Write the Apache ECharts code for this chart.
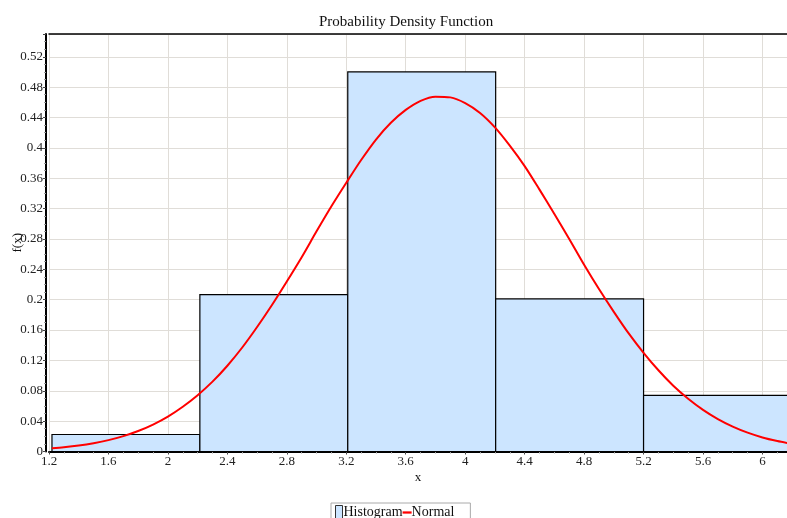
<!DOCTYPE html>
<html>
<head>
<meta charset="utf-8">
<script src="https://cdn.jsdelivr.net/npm/echarts@6/dist/echarts.min.js"></script>
<style>
    html, body { margin: 0; padding: 0; background: #fff; }
    #chart { width: 787px; height: 518px; }
</style>
</head>
<body>
<div id="chart"></div>
<script>
// histogram bins (x from / x to / density)
const binStart = [1.22, 2.215, 3.21, 4.205, 5.2]
const binEnd = [2.215, 3.21, 4.205, 5.2, 6.195]
const binDensity = [0.0224, 0.2066, 0.5, 0.201, 0.0740]

// fitted normal curve
const curveX = [1.22, 1.3, 1.4, 1.5, 1.6, 1.7, 1.8, 1.9, 2.0, 2.1, 2.2, 2.3, 2.4, 2.5, 2.6, 2.7,
    2.8, 2.9, 3.0, 3.1, 3.2, 3.3, 3.4, 3.5, 3.6, 3.7, 3.8, 3.9, 4.0, 4.1, 4.2, 4.3, 4.4,
    4.5, 4.6, 4.7, 4.8, 4.9, 5.0, 5.1, 5.2, 5.3, 5.4, 5.5, 5.6, 5.7, 5.8, 5.9, 6.0, 6.1, 6.17]
const curveY = [0.0042, 0.0056, 0.0079, 0.011, 0.015, 0.0203, 0.027, 0.0355, 0.046, 0.059, 0.0742, 0.092, 0.113,
    0.137, 0.164, 0.193, 0.224, 0.256, 0.29, 0.323, 0.354, 0.384, 0.411, 0.433, 0.45, 0.462, 0.4675, 0.4665,
    0.459, 0.446, 0.427, 0.403, 0.376, 0.345, 0.313, 0.28, 0.246, 0.214, 0.184, 0.1555, 0.13, 0.107,
    0.0866, 0.0694, 0.0548, 0.0427, 0.0328, 0.0248, 0.0185, 0.0137, 0.011]

const serif = '"Liberation Serif", "DejaVu Serif", serif'
const gridColor = '#e0ddd8'

let myChart = echarts.init(document.getElementById('chart'))

let option = {
    animation: false,
    title: {
        text: 'Probability Density Function',
        left: 319,
        top: 15,
        padding: 0,
        textStyle: { fontFamily: serif, fontSize: 15, fontWeight: 'normal', color: '#111' },
    },
    legend: {
        left: 331,
        top: 503,
        padding: [2, 16, 2, 4],
        borderColor: '#aaa',
        borderWidth: 1,
        itemGap: 0,
        itemWidth: 9,
        itemHeight: 14,
        textStyle: { fontFamily: serif, fontSize: 14, color: '#111', padding: [0, 0, 0, -5] },
        data: [
            {
                name: 'Histogram',
                icon: 'path://M0,0h7v14h-7z',
                itemStyle: { color: '#cce5ff', borderColor: '#333', borderWidth: 1 },
            },
            {
                name: 'Normal',
                icon: 'path://M0,0h10v2.5h-10z',
                itemStyle: { color: '#ff0000' },
            },
        ],
    },
    grid: {
        left: 49,
        right: 0,
        top: 34,
        bottom: 66.5,
        outerBoundsMode: 'none',
        containLabel: false,
    },
    xAxis: [
        {
            type: 'value',
            min: 1.2,
            max: 6.165,
            interval: 0.4,
            name: 'x',
            nameLocation: 'middle',
            nameGap: 20,
            nameMoveOverlap: false,
            nameTextStyle: { fontFamily: serif, fontSize: 13, color: '#111' },
            axisLine: { show: true, lineStyle: { color: '#000', width: 2 } },
            axisTick: { show: true, length: 3, lineStyle: { color: '#444' } },
            minorTick: { show: true, splitNumber: 4, length: 2, lineStyle: { color: '#999' } },
            axisLabel: {
                fontFamily: serif,
                fontSize: 13,
                color: '#222',
                margin: 4,
                showMaxLabel: false,
            },
            splitLine: { show: true, lineStyle: { color: gridColor, width: 1 } },
        },
        {
            type: 'value',
            position: 'top',
            min: 1.2,
            max: 6.165,
            axisLine: { show: true, onZero: false, lineStyle: { color: '#000', width: 1.5 } },
            axisTick: { show: false },
            axisLabel: { show: false },
            splitLine: { show: false },
        },
    ],
    yAxis: {
        type: 'value',
        min: 0,
        max: 0.55,
        interval: 0.04,
        offset: 3,
        name: 'f(x)',
        nameLocation: 'middle',
        nameGap: 22,
        nameMoveOverlap: false,
        nameTextStyle: { fontFamily: serif, fontSize: 13, color: '#111' },
        axisLine: { show: true, lineStyle: { color: '#000', width: 2 } },
        axisTick: { show: true, length: 3, lineStyle: { color: '#444' } },
        minorTick: { show: true, splitNumber: 4, length: 2, lineStyle: { color: '#999' } },
        axisLabel: {
            fontFamily: serif,
            fontSize: 13,
            color: '#222',
            margin: 3,
            showMaxLabel: false,
        },
        splitLine: { show: true, lineStyle: { color: gridColor, width: 1 } },
    },
    series: [
        {
            name: 'Histogram',
            type: 'custom',
            xAxisIndex: 0,
            itemStyle: { color: '#cce5ff' },
            encode: { x: [0, 1], y: 2 },
            data: binStart.map((s, i) => [s, binEnd[i], binDensity[i]]),
            renderItem(params, api) {
                let p0 = api.coord([api.value(0), api.value(2)])
                let p1 = api.coord([api.value(1), 0])
                return {
                    type: 'rect',
                    shape: { x: p0[0], y: p0[1], width: p1[0] - p0[0], height: p1[1] - p0[1] },
                    style: { fill: '#cce5ff', stroke: '#000', lineWidth: 1.2 },
                }
            },
        },
        {
            name: 'Normal',
            type: 'line',
            xAxisIndex: 0,
            smooth: 0.3,
            showSymbol: false,
            z: 5,
            itemStyle: { color: '#ff0000' },
            lineStyle: { color: '#ff0000', width: 2 },
            data: curveX.map((x, i) => [x, curveY[i]]),
        },
    ],
}

myChart.setOption(option, true)
</script>
</body>
</html>
